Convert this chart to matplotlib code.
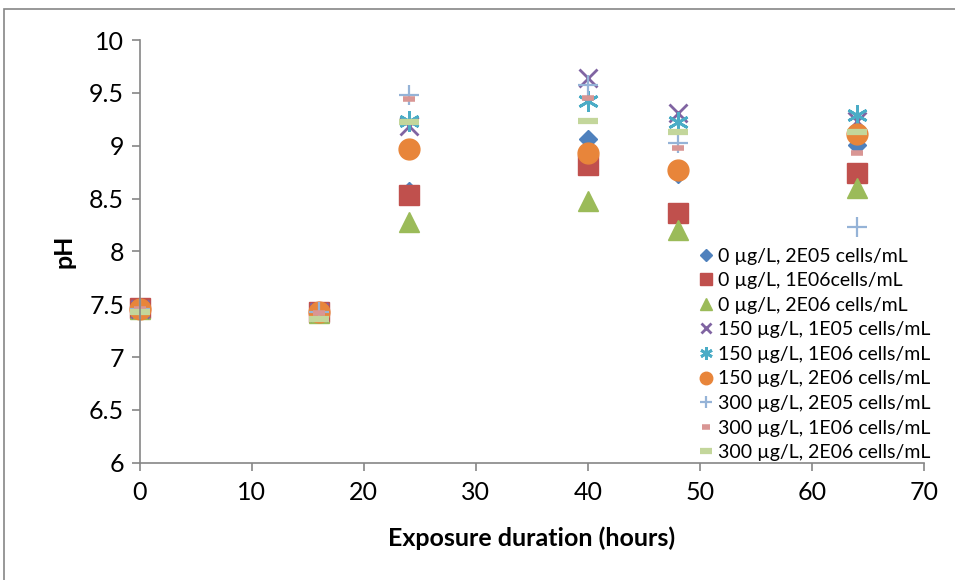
import matplotlib.pyplot as plt
from matplotlib.patches import Rectangle

# Exposure duration (hours)
hours = [0, 16, 24, 40, 48, 64]

# pH values per treatment
labels = [
    "0 µg/L, 2E05 cells/mL",
    "0 µg/L, 1E06cells/mL",
    "0 µg/L, 2E06 cells/mL",
    "150 µg/L, 1E05 cells/mL",
    "150 µg/L, 1E06 cells/mL",
    "150 µg/L, 2E06 cells/mL",
    "300 µg/L, 2E05 cells/mL",
    "300 µg/L, 1E06 cells/mL",
    "300 µg/L, 2E06 cells/mL",
]
ph_0_2e05 = [7.46, 7.43, 8.57, 9.06, 8.73, 9.01]
ph_0_1e06 = [7.46, 7.43, 8.53, 8.82, 8.36, 8.74]
ph_0_2e06 = [7.45, 7.42, 8.28, 8.48, 8.20, 8.60]
ph_150_1e05 = [7.45, 7.43, 9.19, 9.64, 9.31, 9.23]
ph_150_1e06 = [7.45, 7.43, 9.23, 9.42, 9.22, 9.29]
ph_150_2e06 = [7.45, 7.43, 8.97, 8.93, 8.77, 9.11]
ph_300_2e05 = [7.45, 7.43, 9.48, 9.57, 9.03, 8.23]
ph_300_1e06 = [7.45, 7.42, 9.44, 9.45, 8.98, 8.93]
ph_300_2e06 = [7.43, 7.36, 9.22, 9.23, 9.13, 9.13]

series = [ph_0_2e05, ph_0_1e06, ph_0_2e06, ph_150_1e05, ph_150_1e06,
          ph_150_2e06, ph_300_2e05, ph_300_1e06, ph_300_2e06]

styles = [
    dict(marker="D", color="#4F81BD", ms=9.5),
    dict(marker="s", color="#C0504D", ms=14),
    dict(marker="^", color="#9BBB59", ms=15),
    dict(marker="x", color="#8064A2", ms=13, mew=2),
    dict(marker=(6, 2, 0), color="#4BACC6", ms=15, mew=2),
    dict(marker="o", color="#E8853A", ms=15),
    dict(marker="+", color="#95B3D7", ms=15, mew=1.6),
    dict(marker="_", color="#D99694", ms=9, mew=4),
    dict(marker="_", color="#C3D69B", ms=15, mew=4.5),
]

plt.rcParams['font.family'] = ['Lato', 'DejaVu Sans']

fig = plt.figure(figsize=(9.55, 5.8), dpi=100)
ax = fig.add_axes([0.1461, 0.2022, 0.8217, 0.7288])

for vals, lab, st in zip(series, labels, styles):
    ax.plot(hours, vals, linestyle="none", marker=st["marker"], color=st["color"],
            markersize=st["ms"], markeredgewidth=st.get("mew", 1),
            label=lab, clip_on=False)

ax.set_xlim(0, 70)
ax.set_ylim(6, 10)
ax.set_xticks(range(0, 71, 10))
yt = [6 + 0.5 * i for i in range(9)]
ax.set_yticks(yt)
ax.set_yticklabels([f"{v:g}" for v in yt])

for side in ("top", "right"):
    ax.spines[side].set_visible(False)
for side in ("left", "bottom"):
    ax.spines[side].set_color("#868686")
    ax.spines[side].set_linewidth(1.2)
ax.tick_params(axis="both", direction="out", length=6, width=1.2,
               color="#868686", labelsize=18)
ax.tick_params(axis="y", pad=5)
ax.tick_params(axis="x", pad=7)

ax.set_xlabel("Exposure duration (hours)", fontsize=18, fontweight="bold", labelpad=16)
ax.set_ylabel("pH", fontsize=18, fontweight="bold", labelpad=10)

leg = ax.legend(loc="upper left", bbox_to_anchor=(0.723, 0.59), bbox_transform=fig.transFigure,
                frameon=False, fontsize=14, handlelength=0.6, handletextpad=0.3,
                labelspacing=0.39, borderpad=0, markerscale=0.6)

# outer chart border
fig.add_artist(Rectangle((4 / 955, -0.05), 1.1, 1.05 - 9 / 580, transform=fig.transFigure,
                         fill=False, edgecolor="#868686", linewidth=1.2))

fig.savefig("out.png", dpi=100)
